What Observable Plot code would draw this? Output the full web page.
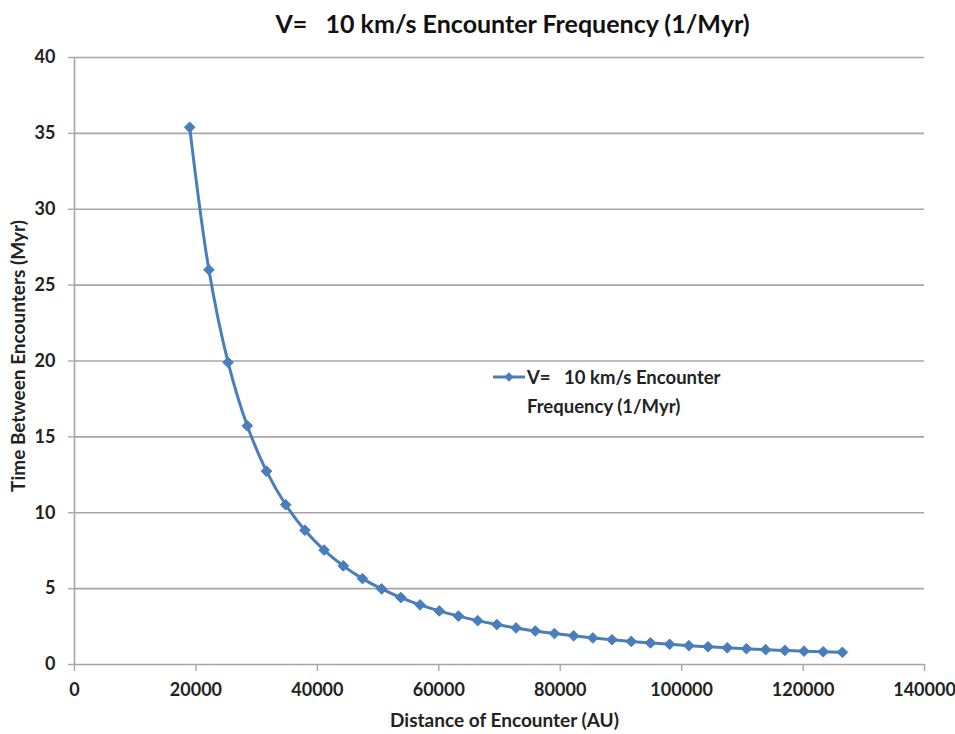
<!DOCTYPE html>
<html>
<head>
<meta charset="utf-8">
<script src="https://cdn.jsdelivr.net/npm/d3@7"></script>
<script src="https://cdn.jsdelivr.net/npm/@observablehq/plot@0.6"></script>
<style>
  body { margin: 0; background: #fff; }
  #wrap { position: relative; width: 955px; height: 734px; font-family: Lato, "Open Sans", sans-serif; }
  #wrap svg text { white-space: pre; }
  #legend { position: absolute; left: 493px; top: 366px; font-family: Lato, "Open Sans", sans-serif;
            font-weight: bold; font-size: 18.5px; color: #222; white-space: pre; }
  #legend .row { display: flex; align-items: center; height: 22px; }
  #legend .row2 { padding-left: 34px; line-height: 22px; margin-top: 7px; }
</style>
</head>
<body>
<div id="wrap"></div>
<script>
const seriesName = "V=   10 km/s Encounter Frequency (1/Myr)";
const legendLine1 = "V=   10 km/s Encounter";
const legendLine2 = "Frequency (1/Myr)";
const xTitle = "Distance of Encounter (AU)";
const yTitle = "Time Between Encounters (Myr)";

const distanceAU = [18972, 22134, 25296, 28458, 31620, 34783, 37945, 41107, 44269, 47431,
  50593, 53755, 56917, 60079, 63241, 66403, 69565, 72727, 75890, 79052,
  82214, 85376, 88538, 91700, 94862, 98024, 101186, 104348, 107510, 110672,
  113834, 116996, 120158, 123320, 126482];
const timeMyr = [35.40, 26.01, 19.91, 15.73, 12.74, 10.53, 8.85, 7.54, 6.50, 5.66,
  4.98, 4.41, 3.93, 3.53, 3.19, 2.89, 2.63, 2.41, 2.21, 2.04,
  1.89, 1.75, 1.63, 1.52, 1.42, 1.33, 1.24, 1.17, 1.10, 1.04,
  0.98, 0.93, 0.88, 0.84, 0.80];
const xTicks = [0, 20000, 40000, 60000, 80000, 100000, 120000, 140000];
const yTicks = [0, 5, 10, 15, 20, 25, 30, 35, 40];

const blue = "#4a7ebb";
const grid = "#a6a6a6";
const data = distanceAU.map((d, i) => ({d, t: timeMyr[i]}));

const chart = Plot.plot({
  width: 955, height: 734,
  marginLeft: 74, marginRight: 31, marginTop: 57, marginBottom: 70,
  style: {fontFamily: "Lato, 'Open Sans', sans-serif", fontSize: "18px", fontWeight: "bold", color: "#222", background: "#fff"},
  x: {domain: [0, 140000], label: null},
  y: {domain: [0, 40], label: null},
  marks: [
    Plot.gridY(yTicks.filter(v => v > 0), {stroke: grid, strokeOpacity: 1, strokeWidth: 1.6}),
    Plot.ruleX([0], {stroke: grid, strokeWidth: 1.6}),
    Plot.ruleY([0], {stroke: grid, strokeWidth: 1.6}),
    Plot.axisX({ticks: xTicks, tickSize: 7, tickPadding: 12, stroke: grid, strokeWidth: 1.4, fill: "#222", fontSize: 18, tickFormat: d => String(d), label: null}),
    Plot.axisY({ticks: yTicks, tickSize: 6, tickPadding: 13, stroke: grid, strokeWidth: 1.4, fill: "#222", fontSize: 18, tickFormat: d => String(d), label: null}),
    Plot.line(data, {x: "d", y: "t", curve: "catmull-rom", stroke: blue, strokeWidth: 3}),
    Plot.dot(data, {x: "d", y: "t", symbol: "diamond2", fill: blue, stroke: blue, strokeWidth: 1, r: 4.8}),
    Plot.text([seriesName], {text: d => d, frameAnchor: "top", lineAnchor: "middle", textAnchor: "middle", dx: 13, dy: -33, fontSize: 25, fontWeight: "bold", fill: "#111"}),
    Plot.text([xTitle], {text: d => d, frameAnchor: "bottom", lineAnchor: "middle", textAnchor: "middle", dx: 5, dy: 56, fontSize: 19, fontWeight: "bold", fill: "#222"}),
    Plot.text([yTitle], {text: d => d, frameAnchor: "left", lineAnchor: "middle", textAnchor: "middle", dx: -56, dy: -5, rotate: -90, fontSize: 19, fontWeight: "bold", fill: "#222"})
  ]
});
document.getElementById("wrap").appendChild(chart);

const legend = document.createElement("div");
legend.id = "legend";
legend.innerHTML =
  `<div class="row"><svg width="34" height="22" style="display:block">` +
  `<line x1="0" x2="32" y1="11" y2="11" stroke="${blue}" stroke-width="3"/>` +
  `<path d="M16,6.2L20.8,11L16,15.8L11.2,11Z" fill="${blue}"/></svg><span>${legendLine1}</span></div>` +
  `<div class="row2">${legendLine2}</div>`;
document.getElementById("wrap").appendChild(legend);
</script>
</body>
</html>
